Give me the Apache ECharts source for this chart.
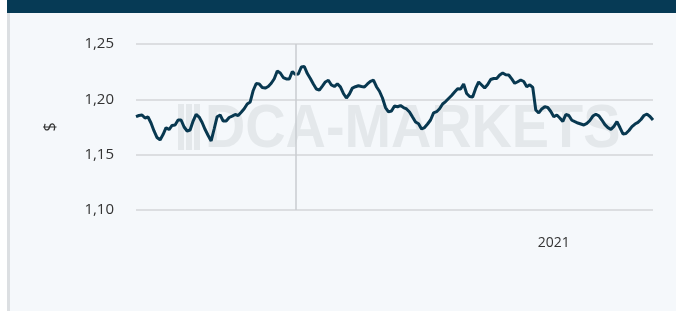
<!DOCTYPE html>
<html>
<head>
<meta charset="utf-8">
<script src="https://cdn.jsdelivr.net/npm/echarts@6/dist/echarts.min.js"></script>
<style>
  html, body { margin: 0; padding: 0; background: #fff; }
  #wrap { position: absolute; left: 7px; top: 0; width: 669px; height: 311px;
          background: #f5f8fb; border-left: 3px solid #dcdfe2; box-sizing: border-box; }
  #bar { position: absolute; left: 7px; top: 0; width: 669px; height: 13px; background: #063a55; }
  #chart { position: absolute; left: 0; top: 0; width: 676px; height: 311px; }
</style>
</head>
<body>
<div id="wrap"></div>
<div id="bar"></div>
<div id="chart"></div>
<script>
// y axis ticks
var yTicks = [1.10, 1.15, 1.20, 1.25];
var yearLabel = "2021";
var yearIndex = 139;   // category where the 2021 label sits
var markIndex = 53;    // vertical marker line

// closing rate
var rates = [
  1.1843, 1.1854, 1.1858, 1.1831, 1.1840, 1.1786, 1.1714, 1.1655, 1.1633, 1.1682,
  1.1744, 1.1727, 1.1764, 1.1768, 1.1813, 1.1813, 1.1750, 1.1714, 1.1723, 1.1804,
  1.1865, 1.1840, 1.1791, 1.1727, 1.1673, 1.1624, 1.1732, 1.1843, 1.1858, 1.1804,
  1.1804, 1.1836, 1.1849, 1.1863, 1.1854, 1.1883, 1.1915, 1.1958, 1.1976, 1.2080,
  1.2143, 1.2139, 1.2107, 1.2102, 1.2116, 1.2145, 1.2186, 1.2256, 1.2238, 1.2197,
  1.2184, 1.2184, 1.2251, 1.2226, 1.2229, 1.2292, 1.2297, 1.2233, 1.2188, 1.2139,
  1.2093, 1.2084, 1.2120, 1.2157, 1.2172, 1.2130, 1.2116, 1.2139, 1.2113, 1.2053,
  1.2012, 1.2048, 1.2102, 1.2114, 1.2123, 1.2116, 1.2111, 1.2139, 1.2163, 1.2173,
  1.2114, 1.2073, 1.2012, 1.1926, 1.1887, 1.1895, 1.1940, 1.1933, 1.1944, 1.1926,
  1.1913, 1.1886, 1.1840, 1.1795, 1.1779, 1.1732, 1.1745, 1.1777, 1.1813, 1.1877,
  1.1888, 1.1915, 1.1958, 1.1980, 1.2008, 1.2035, 1.2066, 1.2095, 1.2093, 1.2139,
  1.2053, 1.2026, 1.2021, 1.2098, 1.2157, 1.2130, 1.2102, 1.2134, 1.2179, 1.2188,
  1.2188, 1.2220, 1.2238, 1.2222, 1.2220, 1.2184, 1.2145, 1.2159, 1.2175, 1.2161,
  1.2114, 1.2131, 1.2107, 1.1904, 1.1877, 1.1913, 1.1933, 1.1926, 1.1890, 1.1843,
  1.1858, 1.1831, 1.1800, 1.1863, 1.1854, 1.1811, 1.1798, 1.1786, 1.1777, 1.1768,
  1.1783, 1.1809, 1.1849, 1.1865, 1.1851, 1.1813, 1.1771, 1.1744, 1.1729, 1.1756,
  1.1798, 1.1745, 1.1687, 1.1691, 1.1718, 1.1753, 1.1777, 1.1792, 1.1818, 1.1854,
  1.1867, 1.1845, 1.1813
];

var categories = rates.map(function (v, i) {
  return i === yearIndex ? yearLabel : "p" + i;
});

var chart = echarts.init(document.getElementById("chart"));
var option = {
  animation: false,
  grid: { left: 136, right: 23, top: 44, bottom: 101 },
  graphic: [
    {
      type: "text", left: 205, top: 99, z: 0, silent: true,
      style: { text: "DCA-MARKETS", fill: "#e4e8eb", font: "bold 62px 'Liberation Sans', Arial" },
      scaleX: 0.9
    },
    { type: "rect", shape: { x: 178, y: 104, width: 6, height: 46 }, style: { fill: "#e4e8eb" } },
    { type: "rect", shape: { x: 186, y: 104, width: 6, height: 46 }, style: { fill: "#e4e8eb" } },
    { type: "rect", shape: { x: 194, y: 104, width: 6, height: 46 }, style: { fill: "#e4e8eb" } }
  ],
  xAxis: {
    type: "category",
    boundaryGap: false,
    data: categories,
    axisLine: { show: false },
    axisTick: { show: false },
    axisLabel: {
      margin: 26,
      color: "#333",
      fontSize: 14,
      fontFamily: "'Open Sans', sans-serif",
      interval: function (index) { return index === yearIndex; }
    },
    splitLine: { show: false }
  },
  yAxis: {
    type: "value",
    min: yTicks[0],
    max: yTicks[yTicks.length - 1],
    interval: 0.05,
    name: "$",
    nameLocation: "middle",
    nameGap: 78,
    nameRotate: 90,
    nameTextStyle: { color: "#333", fontSize: 16, fontFamily: "'Open Sans', sans-serif" },
    axisLine: { show: false },
    axisTick: { show: false },
    axisLabel: {
      margin: 22,
      color: "#333",
      fontSize: 15,
      fontFamily: "'Open Sans', sans-serif",
      formatter: function (v) { return v.toFixed(2).replace(".", ","); }
    },
    splitLine: { lineStyle: { color: "#d3d6d9", width: 1.5 } }
  },
  series: [
    {
      type: "line",
      data: rates,
      showSymbol: false,
      z: 3,
      lineStyle: { color: "#083850", width: 3 },
      markLine: {
        silent: true,
        symbol: "none",
        label: { show: false },
        lineStyle: { color: "#c9cdd0", width: 1.5, type: "solid" },
        data: [{ xAxis: categories[markIndex] }]
      }
    }
  ]
};
chart.setOption(option);
</script>
</body>
</html>
